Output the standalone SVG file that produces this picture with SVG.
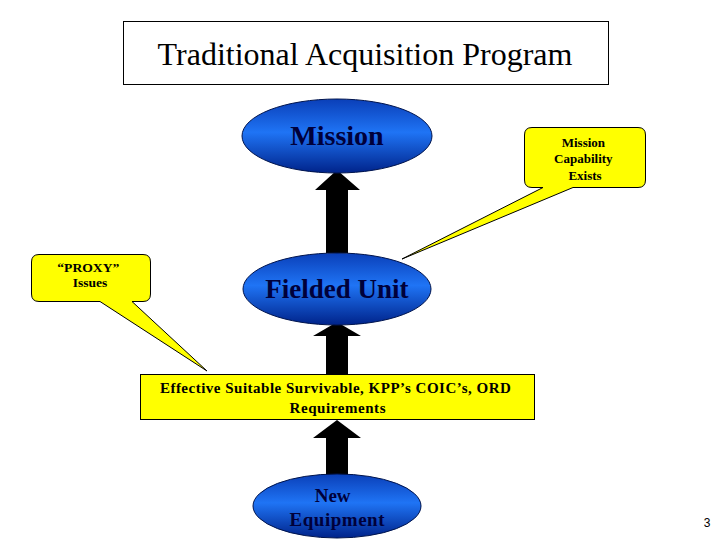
<svg xmlns="http://www.w3.org/2000/svg" width="720" height="540" viewBox="0 0 720 540">
  <defs>
    <linearGradient id="blueGrad" x1="0" y1="0" x2="0" y2="1">
      <stop offset="0" stop-color="#0a3fb8"/>
      <stop offset="0.45" stop-color="#1f74f5"/>
      <stop offset="1" stop-color="#00238a"/>
    </linearGradient>
  </defs>
  <style>
    .ell { fill: url(#blueGrad); stroke: #00144d; stroke-width: 1; }
    .elltxt { font-family: "Liberation Serif", "Times New Roman", serif; font-weight: bold; fill: #00003a; text-anchor: middle; }
    .yellow { fill: #ffff00; stroke: #000000; stroke-width: 1; }
    .ytxt { font-family: "Liberation Serif", "Times New Roman", serif; fill: #000000; text-anchor: middle; }
    .arrow { fill: #000000; }
  </style>
  <rect width="720" height="540" fill="#ffffff"/>

  <g id="title">
    <rect x="123.5" y="21.5" width="485" height="63" fill="#ffffff" stroke="#000000" stroke-width="1"/>
    <text x="365" y="65" font-family="Liberation Serif, Times New Roman, serif" font-size="32" text-anchor="middle" fill="#000000">Traditional Acquisition Program</text>
  </g>

  <g id="connectors">
    <polygon class="arrow" points="326,253 348,253 348,190 360,190 337,170 315,190 326,190"/>
    <polygon class="arrow" points="326,374 348,374 348,336 361,336 337,322 313,336 326,336"/>
    <polygon class="arrow" points="326,476 348,476 348,438 361,438 337,420 313,438 326,438"/>
  </g>

  <g id="mission">
    <ellipse class="ell" cx="337" cy="136" rx="95" ry="37"/>
    <text class="elltxt" x="337" y="145" font-size="28">Mission</text>
  </g>

  <g id="fielded-unit">
    <ellipse class="ell" cx="337" cy="289" rx="94" ry="36"/>
    <text class="elltxt" x="337" y="298" font-size="27">Fielded Unit</text>
  </g>

  <g id="requirements">
    <rect class="yellow" x="140.5" y="374.5" width="394" height="45"/>
    <text class="ytxt" font-weight="bold" font-size="15">
      <tspan x="337.5" y="393" textLength="351" lengthAdjust="spacing">Effective Suitable Survivable, KPP’s COIC’s, ORD</tspan>
      <tspan x="337.5" y="413" textLength="96" lengthAdjust="spacing">Requirements</tspan>
    </text>
  </g>

  <g id="new-equipment">
    <ellipse class="ell" cx="337" cy="506" rx="84" ry="32"/>
    <text class="elltxt" font-size="19">
      <tspan x="335" y="502">New</tspan>
      <tspan x="337" y="526" textLength="95" lengthAdjust="spacing">Equipment</tspan>
    </text>
  </g>

  <g id="callout-capability">
    <path class="yellow" d="M 532,127.5 H 638 Q 645.5,127.5 645.5,135 V 180 Q 645.5,187.5 638,187.5 H 573 L 402,259 L 543,187.5 H 532 Q 524.5,187.5 524.5,180 V 135 Q 524.5,127.5 532,127.5 Z"/>
    <text class="ytxt" font-weight="bold" font-size="13">
      <tspan x="585" y="147">Mission</tspan>
      <tspan x="585" y="163">Capability</tspan>
      <tspan x="585" y="180">Exists</tspan>
    </text>
  </g>

  <g id="callout-proxy">
    <path class="yellow" d="M 39,254.5 H 143 Q 150.5,254.5 150.5,262 V 294 Q 150.5,301.5 143,301.5 H 132 L 207,371 L 100,301.5 H 39 Q 31.5,301.5 31.5,294 V 262 Q 31.5,254.5 39,254.5 Z"/>
    <text class="ytxt" font-size="13.5" font-weight="bold">
      <tspan x="90" y="272" textLength="62" lengthAdjust="spacingAndGlyphs">“PROXY”</tspan>
      <tspan x="90" y="287">Issues</tspan>
    </text>
  </g>

  <text x="707" y="527" font-family="Liberation Sans, Arial, sans-serif" font-size="12" fill="#000000" text-anchor="middle">3</text>
</svg>
